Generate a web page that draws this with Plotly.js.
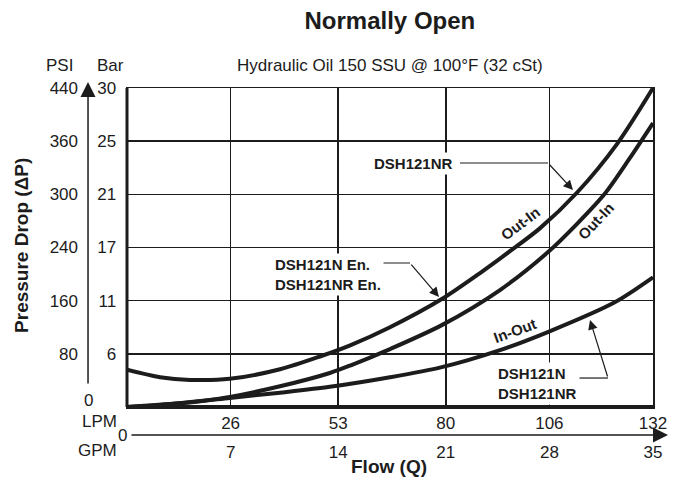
<!DOCTYPE html>
<html>
<head>
<meta charset="utf-8">
<script src="https://cdn.plot.ly/plotly-3.0.1.min.js"></script>
<style>html,body{margin:0;padding:0;background:#fff}#chart{width:684px;height:479px}</style>
</head>
<body>
<div id="chart"></div>
<script>
// ---- Data ----
// Flow in LPM; pressure drop expressed in grid steps of the (non-linear) pressure scale
const lpmTicks = [26, 53, 80, 106, 132];
const lpmLabels = ['26', '53', '80', '106', '132'];
const gpmLabels = ['7', '14', '21', '28', '35'];
const gridLevels = [1, 2, 3, 4, 5, 6];
const psiLabels = ['80', '160', '240', '300', '360', '440'];
const barLabels = ['6', '11', '17', '21', '25', '30'];

// Upper curve (Out-In, with low-flow dip)
const flowA = [0, 8.3, 15.8, 25.8, 38.4, 48.4, 56.0, 66.0, 79.0, 88.6, 96.1, 103.6, 112.9, 123.0, 132];
const dpA   = [0.70, 0.56, 0.51, 0.53, 0.71, 0.95, 1.16, 1.50, 2.03, 2.52, 2.93, 3.36, 4.03, 4.95, 6.0];
// Middle curve (Out-In)
const flowB = [0, 8.3, 18.3, 25.8, 38.4, 50.9, 56.0, 66.0, 79.0, 93.6, 105.6, 113.0, 120.0, 126.0, 132];
const dpB   = [0, 0.04, 0.11, 0.19, 0.39, 0.64, 0.78, 1.09, 1.54, 2.20, 2.91, 3.45, 4.02, 4.66, 5.34];
// Lower curve (In-Out)
const flowC = [0, 12.9, 25.8, 38.4, 50.9, 66.0, 79.0, 93.6, 105.6, 122.4, 132];
const dpC   = [0, 0.07, 0.17, 0.27, 0.38, 0.56, 0.75, 1.07, 1.41, 1.97, 2.44];

// ---- Chart ----
const FONT = 'Liberation Sans, Arial, Helvetica, sans-serif';
const INK = '#1c1c1c';
const lineStyle = {color: INK, width: 4, shape: 'spline', smoothing: 0.8};

const traces = [
  {x: flowA, y: dpA, mode: 'lines', line: lineStyle, hoverinfo: 'skip', xaxis: 'x', yaxis: 'y'},
  {x: flowB, y: dpB, mode: 'lines', line: lineStyle, hoverinfo: 'skip', xaxis: 'x', yaxis: 'y'},
  {x: flowC, y: dpC, mode: 'lines', line: lineStyle, hoverinfo: 'skip', xaxis: 'x2', yaxis: 'y2'}
];

const tickFont = {family: FONT, size: 17, color: INK};
const labFont = {family: FONT, size: 15, color: INK};

function txt(text, x, y, opts) {
  return Object.assign({text: text, x: x, y: y, xref: 'paper', yref: 'paper', showarrow: false,
    font: tickFont, xanchor: 'center', yanchor: 'middle'}, opts || {});
}
function lbl(text, x, y, opts) {
  return Object.assign({text: text, x: x, y: y, xref: 'x', yref: 'y', showarrow: false,
    font: labFont, xanchor: 'center', yanchor: 'middle'}, opts || {});
}
function arrow(x, y, ax, ay) {
  return {text: '', x: x, y: y, ax: ax, ay: ay, xref: 'x', yref: 'y', axref: 'x', ayref: 'y',
    showarrow: true, arrowhead: 2, arrowsize: 1.6, arrowwidth: 1.2, arrowcolor: INK, standoff: 0};
}

const annotations = [
  txt('Hydraulic Oil 150 SSU @ 100°F (32 cSt)', 0.500, 1.072),
  txt('PSI', -0.129, 1.072),
  txt('Bar', -0.032, 1.072),
  txt('<b>Pressure Drop (ΔP)</b>', -0.1996, 0.505, {textangle: -90, font: {family: FONT, size: 19, color: INK}}),
  txt('<b>Flow (Q)</b>', 0.498, -0.185, {font: {family: FONT, size: 19, color: INK}}),
  txt('0', -0.0741, 0.019),
  txt('0', -0.0095, -0.0878),
  txt('LPM', -0.0152, -0.046, {xanchor: 'right'}),
  txt('GPM', -0.0152, -0.1348, {xanchor: 'right'}),
  // axis arrows
  {text: '', x: -0.0741, y: 1.0188, xref: 'paper', yref: 'paper', ax: 0, ay: 303, showarrow: true,
   arrowhead: 2, arrowsize: 2, arrowwidth: 1.5, arrowcolor: INK, standoff: 0},
  {text: '', x: 1.0285, y: -0.0878, xref: 'paper', yref: 'paper', ax: -538, ay: 0, showarrow: true,
   arrowhead: 2, arrowsize: 2, arrowwidth: 1.5, arrowcolor: INK, standoff: 0},
  // curve labels
  lbl('<b>DSH121NR</b>', 82.56, 4.589, {xanchor: 'right', bgcolor: '#fff', borderpad: 2}),
  arrow(111.92, 4.081, 105.65, 4.589),
  lbl('<b>DSH121N En.</b><br><b>DSH121NR En.</b>', 36.39, 2.492, {xanchor: 'left', align: 'left', bgcolor: '#fff', borderpad: 2}),
  arrow(78.30, 2.069, 71.02, 2.708),
  lbl('<b>DSH121N</b><br><b>DSH121NR</b>', 92.35, 0.451, {xanchor: 'left', align: 'left', bgcolor: '#fff', borderpad: 2}),
  arrow(116.19, 1.636, 120.71, 0.545),
  lbl('<b>Out-In</b>', 98.6, 3.46, {textangle: -37}),
  lbl('<b>Out-In</b>', 117.8, 3.50, {textangle: -47}),
  lbl('<b>In-Out</b>', 97.4, 1.43, {textangle: -20})
];

const shapes = [
  // leader lines
  {type: 'line', xref: 'x', yref: 'y', x0: 83.57, x1: 105.65, y0: 4.589, y1: 4.589, line: {color: INK, width: 1.2}},
  {type: 'line', xref: 'x', yref: 'y', x0: 62.24, x1: 71.02, y0: 2.708, y1: 2.708, line: {color: INK, width: 1.2}},
  {type: 'line', xref: 'x', yref: 'y', x0: 112.93, x1: 120.71, y0: 0.545, y1: 0.545, line: {color: INK, width: 1.2}},
  // heavier bottom and left frame
  {type: 'line', xref: 'paper', yref: 'paper', x0: 0, x1: 1, y0: 0, y1: 0, line: {color: INK, width: 4}},
  {type: 'line', xref: 'paper', yref: 'paper', x0: 0, x1: 0, y0: 0, y1: 1, line: {color: INK, width: 3}}
];

const gridAxis = {
  showgrid: true, gridcolor: INK, gridwidth: 1.5, showline: true, linecolor: INK, linewidth: 1.5,
  mirror: true, ticks: '', zeroline: false, fixedrange: true, tickfont: tickFont
};

const layout = {
  width: 684, height: 479,
  margin: {l: 127, r: 31, t: 88, b: 72},
  paper_bgcolor: '#fff', plot_bgcolor: '#fff',
  showlegend: false,
  font: {family: FONT, color: INK},
  title: {text: '<b>Normally Open</b>', x: 0.570, xanchor: 'center', y: 0.958, yanchor: 'middle',
          font: {family: FONT, size: 24, color: INK}},
  xaxis: Object.assign({}, gridAxis, {range: [0, 132], tickvals: lpmTicks, ticktext: lpmLabels, ticklabelstandoff: 0}),
  yaxis: Object.assign({}, gridAxis, {range: [0, 6], tickvals: gridLevels, ticktext: barLabels, ticklabelstandoff: 6}),
  xaxis2: {overlaying: 'x', anchor: 'y2', side: 'bottom', range: [0, 132], tickvals: lpmTicks, ticktext: gpmLabels,
           showgrid: false, showline: false, zeroline: false, ticks: '', ticklabelstandoff: 33, tickfont: tickFont, fixedrange: true},
  yaxis2: {overlaying: 'y', anchor: 'x2', side: 'left', range: [0, 6], tickvals: gridLevels, ticktext: psiLabels,
           showgrid: false, showline: false, zeroline: false, ticks: '', ticklabelstandoff: 48, tickfont: tickFont, fixedrange: true},
  annotations: annotations,
  shapes: shapes
};

Plotly.newPlot('chart', traces, layout, {staticPlot: true, displayModeBar: false});
</script>
</body>
</html>
